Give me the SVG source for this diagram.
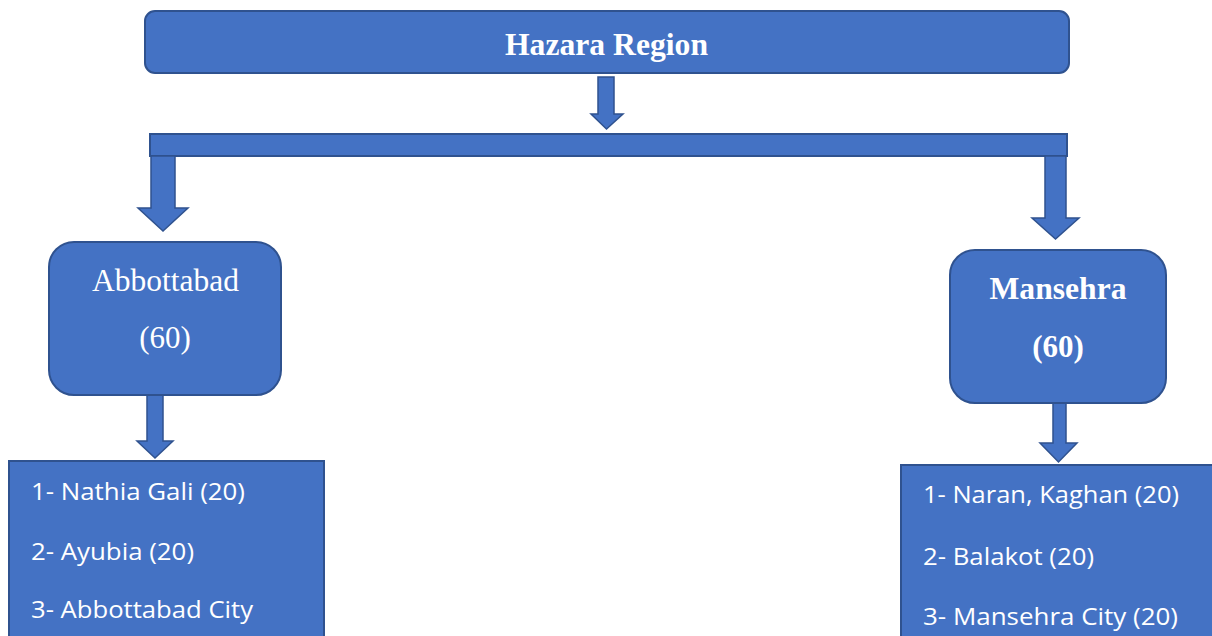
<svg xmlns="http://www.w3.org/2000/svg" width="1212" height="636" viewBox="0 0 1212 636">
<style>
.box{fill:#4472C4;stroke:#2F528F;stroke-width:2}
.arr{fill:#4472C4;stroke:#2F528F;stroke-width:1.5;stroke-linejoin:miter}
.serif{font-family:"Liberation Serif","Times New Roman",serif;fill:#fff;text-anchor:middle}
.sans{font-family:"Open Sans","Noto Sans",sans-serif;fill:#fff;font-size:24px}
</style>
<rect width="1212" height="636" fill="#fff"/>
<g id="connectors">
<path class="arr" d="M598,77 H614 V114 H623 L606.5,129 L591,114 H598 Z"/>
<rect class="box" x="150" y="134" width="917" height="22"/>
<path class="arr" d="M151,156 H175 V208 H188 L163,231 L138,208 H151 Z"/>
<path class="arr" d="M1045,156 H1066 V218 H1079 L1055.5,239 L1032,218 H1045 Z"/>
<path class="arr" d="M147,395 H163 V441 H173 L155,458 L137,441 H147 Z"/>
<path class="arr" d="M1053,403 H1066 V443 H1077 L1058.5,462 L1040,443 H1053 Z"/>
</g>
<g id="hazara">
<rect class="box" x="145" y="11" width="924" height="62" rx="10"/>
<text class="serif" x="606.5" y="55" font-size="31" font-weight="bold" textLength="203" lengthAdjust="spacingAndGlyphs">Hazara Region</text>
</g>
<g id="abbottabad">
<rect class="box" x="49" y="242" width="232" height="153" rx="25"/>
<text class="serif" x="165.5" y="291" font-size="31" textLength="147" lengthAdjust="spacingAndGlyphs">Abbottabad</text>
<text class="serif" x="165" y="348" font-size="31">(60)</text>
</g>
<g id="mansehra">
<rect class="box" x="950" y="250" width="216" height="153" rx="25"/>
<text class="serif" x="1058" y="299" font-size="31" font-weight="bold" textLength="137" lengthAdjust="spacingAndGlyphs">Mansehra</text>
<text class="serif" x="1058" y="357" font-size="31" font-weight="bold">(60)</text>
</g>
<g id="abbottabad-list">
<rect class="box" x="9" y="461" width="315" height="180"/>
<text class="sans" x="31" y="500" textLength="214" lengthAdjust="spacingAndGlyphs">1- Nathia Gali (20)</text>
<text class="sans" x="31" y="560" textLength="163" lengthAdjust="spacingAndGlyphs">2- Ayubia (20)</text>
<text class="sans" x="31" y="618" textLength="222" lengthAdjust="spacingAndGlyphs">3- Abbottabad City</text>
</g>
<g id="mansehra-list">
<rect class="box" x="901" y="465" width="320" height="180"/>
<text class="sans" x="923" y="503" textLength="256" lengthAdjust="spacingAndGlyphs">1- Naran, Kaghan (20)</text>
<text class="sans" x="923" y="565" textLength="171" lengthAdjust="spacingAndGlyphs">2- Balakot (20)</text>
<text class="sans" x="923" y="625" textLength="255" lengthAdjust="spacingAndGlyphs">3- Mansehra City (20)</text>
</g>
</svg>
